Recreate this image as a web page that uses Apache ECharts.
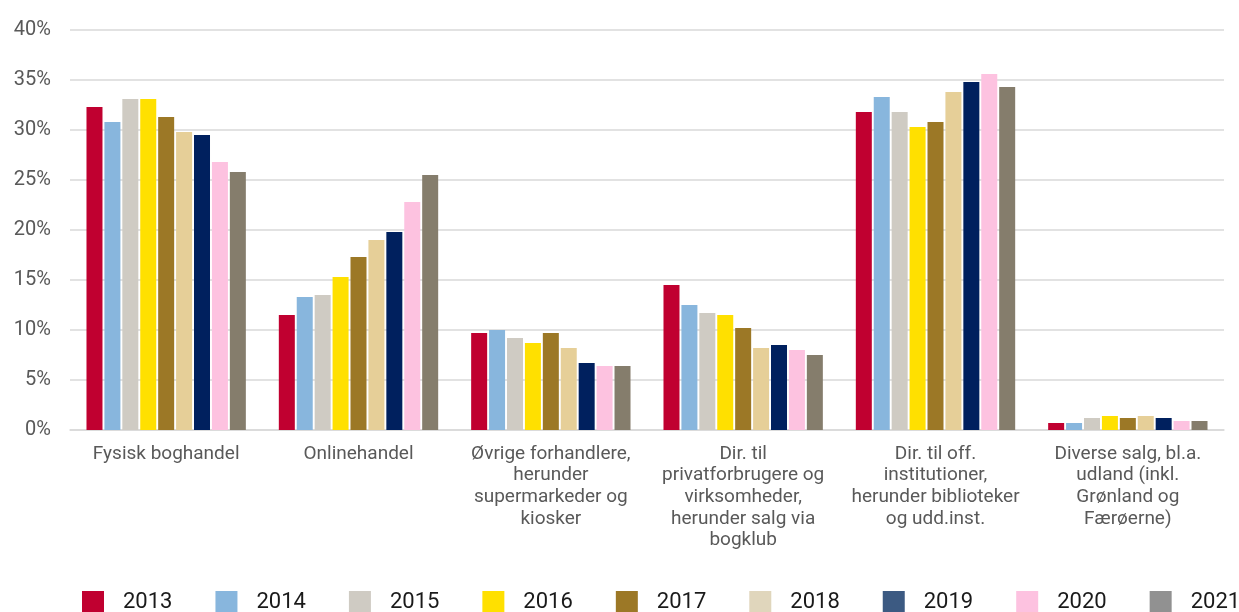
<!DOCTYPE html>
<html>
<head>
<meta charset="utf-8">
<script src="https://cdn.jsdelivr.net/npm/echarts@6/dist/echarts.min.js"></script>
<style>html,body{margin:0;padding:0;background:#fff}#c{width:1239px;height:612px}</style>
</head>
<body>
<div id="c"></div>
<script>
const categories = [
  "Fysisk boghandel",
  "Onlinehandel",
  "Øvrige forhandlere,\nherunder\nsupermarkeder og\nkiosker",
  "Dir. til\nprivatforbrugere og\nvirksomheder,\nherunder salg via\nbogklub",
  "Dir. til off.\ninstitutioner,\nherunder biblioteker\nog udd.inst.",
  "Diverse salg, bl.a.\nudland (inkl.\nGrønland og\nFærøerne)"
];
const years = ["2013","2014","2015","2016","2017","2018","2019","2020","2021"];
const v2013 = [32.3, 11.5, 9.7, 14.5, 31.8, 0.7];
const v2014 = [30.8, 13.3, 10.0, 12.5, 33.3, 0.7];
const v2015 = [33.1, 13.5, 9.2, 11.7, 31.8, 1.2];
const v2016 = [33.1, 15.3, 8.7, 11.5, 30.3, 1.4];
const v2017 = [31.3, 17.3, 9.7, 10.2, 30.8, 1.2];
const v2018 = [29.8, 19.0, 8.2, 8.2, 33.8, 1.4];
const v2019 = [29.5, 19.8, 6.7, 8.5, 34.8, 1.2];
const v2020 = [26.8, 22.8, 6.4, 8.0, 35.6, 0.9];
const v2021 = [25.8, 25.5, 6.4, 7.5, 34.3, 0.9];
const yTicks = [0, 5, 10, 15, 20, 25, 30, 35, 40];

const values = [v2013, v2014, v2015, v2016, v2017, v2018, v2019, v2020, v2021];
const barColors = ["#c00030","#88b6dd","#cfcbc3","#ffe000","#9c7826","#e6cf98","#00205e","#fdc2e0","#857d6c"];
const legendColors = ["#c00030","#88b6dd","#cfcbc3","#ffe000","#9c7826","#e0d6bc","#3c5a82","#fdc2e0","#919191"];

const chart = echarts.init(document.getElementById('c'), null, {renderer:'canvas'});
chart.setOption({
  animation: false,
  grid: {left: 70, right: 15, top: 30, bottom: 182, containLabel: false},
  legend: {
    left: 82, top: 591, width: 1400, padding: 0,
    icon: 'rect', itemWidth: 22, itemHeight: 22, itemGap: 43,
    textStyle: {fontFamily: 'Roboto', fontSize: 22, color: '#1a1a1a', padding: [6,0,0,14]},
    data: years.map((y,i)=>({name:y, itemStyle:{color: legendColors[i]}}))
  },
  xAxis: {
    type: 'category', data: categories,
    axisLine: {lineStyle: {color: '#d9d9d9', width: 1.5}},
    axisTick: {show: false},
    axisLabel: {interval: 0, color: '#595959', fontFamily: 'Roboto', fontSize: 19, lineHeight: 21.7, margin: 13}
  },
  yAxis: {
    type: 'value', min: 0, max: 40, interval: 5,
    axisLine: {show: false}, axisTick: {show: false},
    splitLine: {lineStyle: {color: '#d9d9d9', width: 1.5}},
    axisLabel: {color: '#595959', fontFamily: 'Roboto', fontSize: 20, margin: 19,
      formatter: v => yTicks.includes(v) ? v + '%' : ''}
  },
  series: years.map((y,i)=>({
    name: y, type: 'bar', data: values[i], barWidth: 16, barGap: '12%',
    itemStyle: {color: barColors[i]}
  }))
});
</script>
</body>
</html>
